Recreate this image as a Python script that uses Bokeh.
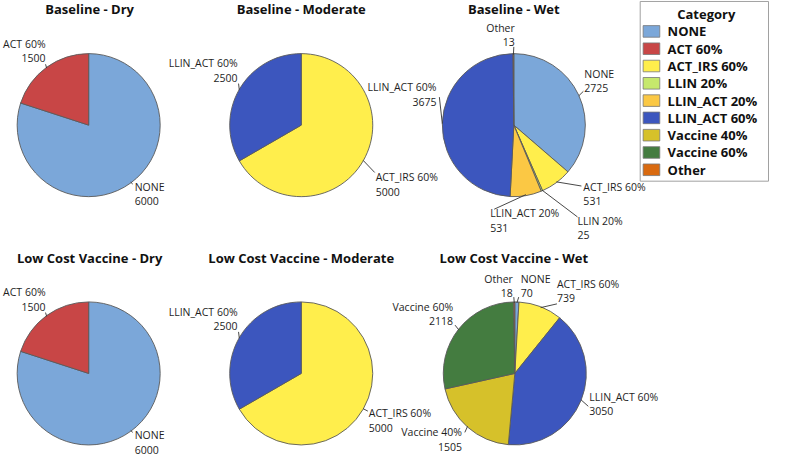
import math
from bokeh.plotting import figure
from bokeh.models import Range1d, ColumnDataSource
from bokeh.core.properties import value
from bokeh.embed import file_html
from bokeh.resources import INLINE

# ---------------- data ----------------
CATEGORIES = ["NONE", "ACT 60%", "ACT_IRS 60%", "LLIN 20%", "LLIN_ACT 20%",
              "LLIN_ACT 60%", "Vaccine 40%", "Vaccine 60%", "Other"]
CAT_COLORS = ["#7BA7D9", "#C84646", "#FFEE4C", "#C6E86C", "#FBC844",
              "#3C56BE", "#D6C12A", "#447C40", "#D96A10"]

TITLES = ["Baseline - Dry", "Baseline - Moderate", "Baseline - Wet",
          "Low Cost Vaccine - Dry", "Low Cost Vaccine - Moderate", "Low Cost Vaccine - Wet"]

baseline_dry_cats = ["NONE", "ACT 60%"]
baseline_dry_vals = [6000, 1500]

baseline_mod_cats = ["ACT_IRS 60%", "LLIN_ACT 60%"]
baseline_mod_vals = [5000, 2500]

baseline_wet_cats = ["NONE", "ACT_IRS 60%", "LLIN 20%", "LLIN_ACT 20%", "LLIN_ACT 60%", "Other"]
baseline_wet_vals = [2725, 531, 25, 531, 3675, 13]

lowcost_dry_cats = ["NONE", "ACT 60%"]
lowcost_dry_vals = [6000, 1500]

lowcost_mod_cats = ["ACT_IRS 60%", "LLIN_ACT 60%"]
lowcost_mod_vals = [5000, 2500]

lowcost_wet_cats = ["NONE", "ACT_IRS 60%", "LLIN_ACT 60%", "Vaccine 40%", "Vaccine 60%", "Other"]
lowcost_wet_vals = [70, 739, 3050, 1505, 2118, 18]

PANELS = [
    (baseline_dry_cats, baseline_dry_vals),
    (baseline_mod_cats, baseline_mod_vals),
    (baseline_wet_cats, baseline_wet_vals),
    (lowcost_dry_cats, lowcost_dry_vals),
    (lowcost_mod_cats, lowcost_mod_vals),
    (lowcost_wet_cats, lowcost_wet_vals),
]

# ---------------- layout (reference pixel space, y downward) ----------------
W, H = 785, 473
PIE_CENTERS = [(90, 129), (307, 129), (524, 129), (90, 386), (307, 386), (525, 386)]
TITLE_POS = [(91, 9), (307, 9), (524, 9), (91, 266), (307, 266), (524, 266)]
R = 73
LINE_GAP = 15

# label layout per panel per category: (text dx, text dy, align, leader-end dx, leader-end dy)
LAB_DRY = {"NONE": (47, 64, "left", 45, 61), "ACT 60%": (-44, -84, "right", -44, -63)}
LAB_BMOD = {"ACT_IRS 60%": (76, 54, "left", 75, 49), "LLIN_ACT 60%": (-65, -64, "right", -64, -43)}
LAB_LMOD = {"ACT_IRS 60%": (69, 41, "left", 68, 39), "LLIN_ACT 60%": (-65, -64, "right", -64, -43)}
LAB_BWET = {
    "NONE": (72, -53, "left", 71, -35),
    "ACT_IRS 60%": (71, 64, "left", 69, 63),
    "LLIN 20%": (65, 99, "left", 65, 95),
    "LLIN_ACT 20%": (-24, 91, "left", -20, 87),
    "LLIN_ACT 60%": (-79, -39, "right", -76, -29),
    "Other": (1, -101, "right", 0, -81),
}
LAB_LWET = {
    "NONE": (6, -98, "left", 4, -79),
    "Other": (-2, -98, "right", -1, -79),
    "ACT_IRS 60%": (43, -93, "left", 43, -72),
    "LLIN_ACT 60%": (76, 24, "left", 75, 34),
    "Vaccine 40%": (-54, 61, "right", -51, 61),
    "Vaccine 60%": (-63, -69, "right", -61, -50),
}
LABEL_LAYOUT = [LAB_DRY, LAB_BMOD, LAB_BWET, LAB_DRY, LAB_LMOD, LAB_LWET]

LEGEND_BOX = (653, 1, 784, 187)
LEGEND_ROW0, LEGEND_STEP = 32, 17.9


def Y(v):
    return H - v


p = figure(width=769, height=457, output_backend="svg", toolbar_location=None,
           x_range=Range1d(0, W), y_range=Range1d(0, H), min_border=0)
p.axis.visible = False
p.grid.visible = False
p.outline_line_color = None
p.background_fill_color = "white"
p.border_fill_color = "white"

color_of = dict(zip(CATEGORIES, CAT_COLORS))

wx, wy, ws, we, wc = [], [], [], [], []
lx0, ly0, lx1, ly1 = [], [], [], []
txt = {"left": {"x": [], "y": [], "t": []}, "right": {"x": [], "y": [], "t": []}}

for (cats, vals), (cx, cy), lay in zip(PANELS, PIE_CENTERS, LABEL_LAYOUT):
    total = float(sum(vals))
    cum = 0.0
    for c, v in zip(cats, vals):
        a = cum / total * 360.0
        b = (cum + v) / total * 360.0
        cum += v
        wx.append(cx); wy.append(Y(cy))
        ws.append(math.radians(90 - b)); we.append(math.radians(90 - a))
        wc.append(color_of[c])
        mid = math.radians((a + b) / 2)
        ex, ey = cx + R * math.sin(mid), cy - R * math.cos(mid)
        tdx, tdy, al, edx, edy = lay[c]
        lx0.append(ex); ly0.append(Y(ey))
        lx1.append(cx + edx); ly1.append(Y(cy + edy))
        txt[al]["x"] += [cx + tdx, cx + tdx]
        txt[al]["y"] += [Y(cy + tdy), Y(cy + tdy + LINE_GAP)]
        txt[al]["t"] += [c, str(v)]

p.wedge(x="x", y="y", radius=R, start_angle="s", end_angle="e", direction="anticlock",
        fill_color="c", line_color="#5a5a5a", line_width=0.9,
        source=ColumnDataSource(dict(x=wx, y=wy, s=ws, e=we, c=wc)))

p.segment(x0=lx0, y0=ly0, x1=lx1, y1=ly1, line_color="#333333", line_width=0.9)

for al in ("left", "right"):
    p.text(x="x", y="y", text="t", source=ColumnDataSource(txt[al]),
           text_font=value("Open Sans"), text_font_size="10.5px", text_color="#1e1e1e",
           text_align=al, text_baseline="middle")

# titles
p.text(x=[t[0] for t in TITLE_POS], y=[Y(t[1]) for t in TITLE_POS], text=TITLES,
       text_font=value("Open Sans"), text_font_size="13px", text_font_style="bold",
       text_color="#111111", text_align="center", text_baseline="middle")

# legend
l, t, r, b = LEGEND_BOX
p.quad(left=[l], right=[r], top=[Y(t)], bottom=[Y(b)], fill_color="white",
       line_color="#a0a0a0", line_width=1)
p.text(x=[(l + r) / 2 + 2], y=[Y(14)], text=["Category"], text_font=value("Open Sans"),
       text_font_size="13px", text_font_style="bold", text_color="#111111",
       text_align="center", text_baseline="middle")
rows = [LEGEND_ROW0 + i * LEGEND_STEP for i in range(len(CATEGORIES))]
p.quad(left=[656] * len(rows), right=[673] * len(rows),
       top=[Y(rr - 6) for rr in rows], bottom=[Y(rr + 6) for rr in rows],
       fill_color=CAT_COLORS, line_color="#777777", line_width=0.8)
p.text(x=[681] * len(rows), y=[Y(rr) for rr in rows], text=CATEGORIES,
       text_font=value("Open Sans"), text_font_size="13px", text_font_style="bold",
       text_color="#111111", text_align="left", text_baseline="middle")

open("out.html", "w").write(file_html(p, INLINE))
